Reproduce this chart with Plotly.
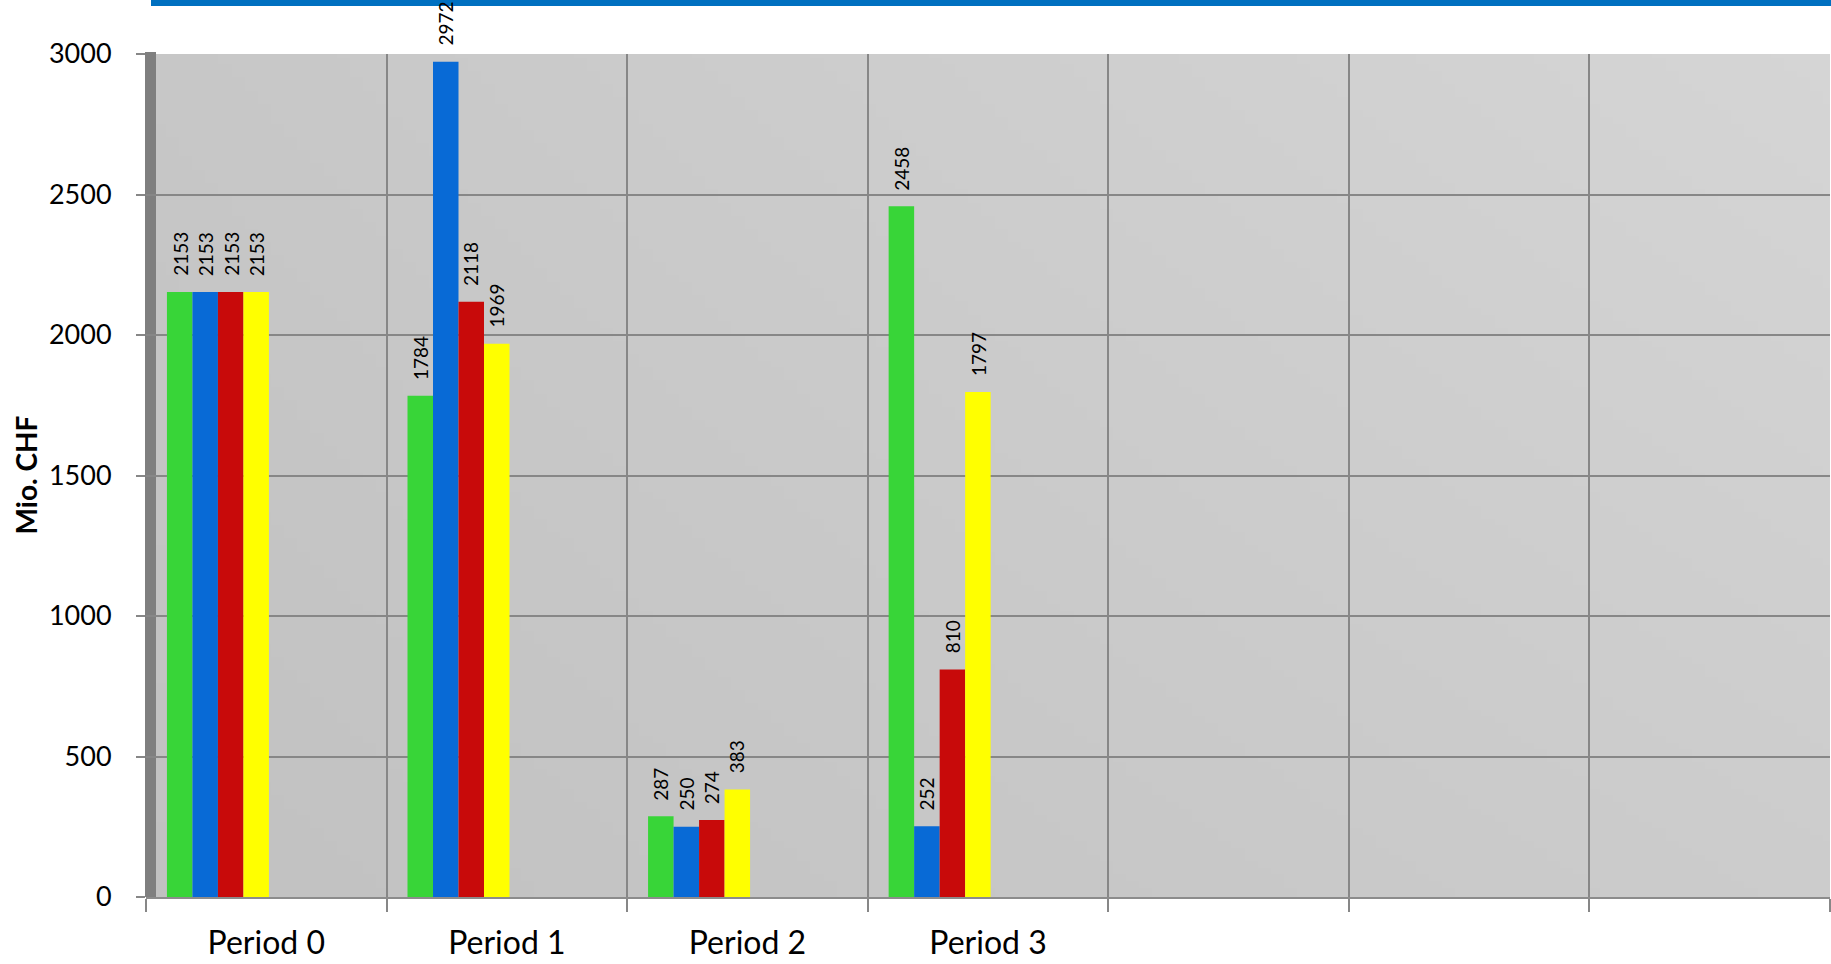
import zlib, struct, base64
import plotly.graph_objects as go

# ---------------- data ----------------
categories = ["Period 0", "Period 1", "Period 2", "Period 3"]
n_slots = 7  # three empty category slots on the right
series_names = ["Green", "Blue", "Red", "Yellow"]
green = [2153, 1784, 287, 2458]
blue = [2153, 2972, 250, 252]
red = [2153, 2118, 274, 810]
yellow = [2153, 1969, 383, 1797]
series_values = [green, blue, red, yellow]
colors = ["#38D538", "#086AD6", "#C80A0A", "#FFFF00"]
y_ticks = [0, 500, 1000, 1500, 2000, 2500, 3000]

# ---------------- geometry (pixels) ----------------
W, H = 1831, 964
ML, MR, MT, MB = 146, 1, 54, 67
PW = W - ML - MR
PH = H - MT - MB

BAR_W = 0.106          # width of one bar in category units
GROUP_START = 0.087    # start of bar group from slot's left edge


def png_gradient(w, h, tl, tr, bl, br):
    raw = bytearray()
    for j in range(h):
        fy = j / (h - 1)
        raw.append(0)
        for i in range(w):
            fx = i / (w - 1)
            v = (tl * (1 - fx) + tr * fx) * (1 - fy) + (bl * (1 - fx) + br * fx) * fy
            c = int(round(v))
            raw += bytes([c, c, c])

    def chunk(t, d):
        c = struct.pack(">I", len(d)) + t + d
        return c + struct.pack(">I", zlib.crc32(t + d) & 0xFFFFFFFF)

    png = (b"\x89PNG\r\n\x1a\n"
           + chunk(b"IHDR", struct.pack(">IIBBBBB", w, h, 8, 2, 0, 0, 0))
           + chunk(b"IDAT", zlib.compress(bytes(raw)))
           + chunk(b"IEND", b""))
    return "data:image/png;base64," + base64.b64encode(png).decode()


fig = go.Figure()

xs = list(range(len(categories)))
for i, (name, vals, col) in enumerate(zip(series_names, series_values, colors)):
    fig.add_trace(go.Bar(
        x=xs, y=vals, name=name,
        marker=dict(color=col, line=dict(width=0)),
        width=BAR_W,
        offset=-0.5 + GROUP_START + i * BAR_W,
        showlegend=False,
        hoverinfo="y",
    ))
    for k, v in zip(xs, vals):
        fig.add_annotation(
            x=k - 0.5 + GROUP_START + (i + 0.5) * BAR_W, y=v,
            xref="x", yref="y",
            text=str(v), textangle=-90,
            showarrow=False, xanchor="center", yanchor="bottom", yshift=14,
            font=dict(family="Lato", size=19, color="black"),
        )

# y-axis title
fig.add_annotation(
    x=(25 - ML) / PW, y=0.5, xref="paper", yref="paper",
    text="<b>Mio. CHF</b>", textangle=-90, showarrow=False,
    xanchor="center", yanchor="middle",
    font=dict(family="Lato", size=28, color="black"),
)

grid_col = "#878787"

fig.update_layout(
    width=W, height=H,
    margin=dict(l=ML, r=MR, t=MT, b=MB, pad=0, autoexpand=False),
    paper_bgcolor="white",
    plot_bgcolor="rgba(0,0,0,0)",
    barmode="overlay",
    font=dict(family="Lato", color="black"),
    xaxis=dict(
        range=[-0.5, n_slots - 0.5],
        tickmode="array", tickvals=xs, ticktext=categories,
        ticks="", showgrid=False, zeroline=False,
        tickfont=dict(family="Lato", size=32, color="black"),
        ticklabelstandoff=17,
        automargin=False,
        showline=True, linecolor="#8C8C8C", linewidth=2,
        minor=dict(
            tickmode="array",
            tickvals=[s - 0.5 for s in range(n_slots + 1)],
            showgrid=True, gridcolor=grid_col, gridwidth=2,
            ticks="outside", ticklen=13, tickwidth=2, tickcolor=grid_col,
        ),
        fixedrange=True,
    ),
    yaxis=dict(
        range=[0, 3000],
        tickmode="array", tickvals=y_ticks,
        showgrid=True, gridcolor=grid_col, gridwidth=2,
        zeroline=False,
        ticks="outside", ticklen=9, tickwidth=2, tickcolor=grid_col,
        tickfont=dict(family="Lato", size=27, color="black"),
        ticklabelstandoff=19,
        automargin=False,
        showline=False,
        fixedrange=True,
    ),
    images=[dict(
        source=png_gradient(128, 128, 199, 213, 193, 204),
        xref="paper", yref="paper", x=0, y=1, sizex=1, sizey=1,
        xanchor="left", yanchor="top", sizing="stretch", layer="below",
    )],
    shapes=[
        # left 3D wall
        dict(type="rect", xref="paper", yref="paper",
             x0=(145 - ML) / PW, x1=(156 - ML) / PW, y0=0, y1=(H - MB - 52) / PH,
             fillcolor="#7F7F7F", line=dict(width=0), layer="between"),
        # blue stripe at the top
        dict(type="rect", xref="paper", yref="paper",
             x0=(151 - ML) / PW, x1=1.01, y0=(H - MB - 6) / PH, y1=(H - MB + 2) / PH,
             fillcolor="#0070C0", line=dict(width=0), layer="above"),
    ],
)

fig.write_html(
    "out.html",
    include_plotlyjs=True,
    config={"displayModeBar": False},
    post_script="document.body.style.margin='0';document.body.style.overflow='hidden';",
)
